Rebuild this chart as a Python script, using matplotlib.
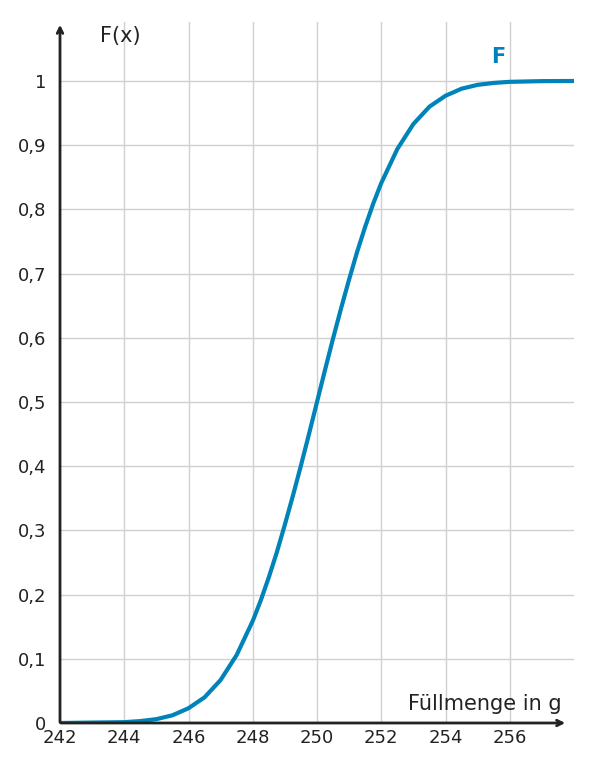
import matplotlib.pyplot as plt

# Verteilungsfunktion
x_vals = [242, 243, 244, 244.5, 245, 245.5, 246, 246.5, 247, 247.5, 248, 248.25, 248.5, 248.75,
          249, 249.25, 249.5, 249.75, 250, 250.25, 250.5, 250.75, 251, 251.25, 251.5, 251.75,
          252, 252.5, 253, 253.5, 254, 254.5, 255, 255.5, 256, 257, 258]
F_vals = [0.0, 0.0007, 0.0013, 0.003, 0.006, 0.012, 0.023, 0.040, 0.067, 0.106, 0.159, 0.191,
          0.227, 0.266, 0.309, 0.354, 0.401, 0.450, 0.500, 0.550, 0.599, 0.646, 0.691, 0.734,
          0.773, 0.809, 0.841, 0.894, 0.933, 0.960, 0.977, 0.988, 0.994, 0.997, 0.9987, 0.9998, 1.0]
x_ticks = [242, 244, 246, 248, 250, 252, 254, 256]
y_ticks = [0, 0.1, 0.2, 0.3, 0.4, 0.5, 0.6, 0.7, 0.8, 0.9, 1]
y_labels = ['0', '0,1', '0,2', '0,3', '0,4', '0,5', '0,6', '0,7', '0,8', '0,9', '1']

blue = '#0083b8'
fig = plt.figure(figsize=(5.91, 7.72), dpi=100)
ax = fig.add_axes([60/591, 1-723/772, 514/591, 701/772])
ax.set_xlim(242, 258)
ax.set_ylim(0, 701/642)

for xt in x_ticks[1:]:
    ax.axvline(xt, color='#d0d0d0', lw=1, zorder=0)
for yt in y_ticks[1:]:
    ax.axhline(yt, color='#d0d0d0', lw=1, zorder=0)

ax.plot(x_vals, F_vals, color=blue, lw=3, zorder=3)

for s in ax.spines.values():
    s.set_visible(False)
ax.annotate('', xy=(568/591, 1-723/772), xytext=(58/591, 1-723/772), xycoords='figure fraction',
            arrowprops=dict(arrowstyle='->', color='#222222', lw=2))
ax.annotate('', xy=(60/591, 1-22/772), xytext=(60/591, 1-725/772), xycoords='figure fraction',
            arrowprops=dict(arrowstyle='->', color='#222222', lw=2))

ax.set_xticks(x_ticks)
ax.set_yticks(y_ticks)
ax.set_yticklabels(y_labels)
ax.tick_params(length=0, labelsize=13, colors='#222222', pad=4)
ax.tick_params(axis='y', pad=10)

fig.text(100/591, 1-36/772, 'F(x)', fontsize=15, color='#222222', va='center')
fig.text(562/591, 1-704/772, 'Füllmenge in g', fontsize=15, color='#222222', va='center', ha='right')
fig.text(498/591, 1-57/772, 'F', fontsize=15, color=blue, fontweight='bold', va='center', ha='center')

fig.savefig('out.png', dpi=100)
